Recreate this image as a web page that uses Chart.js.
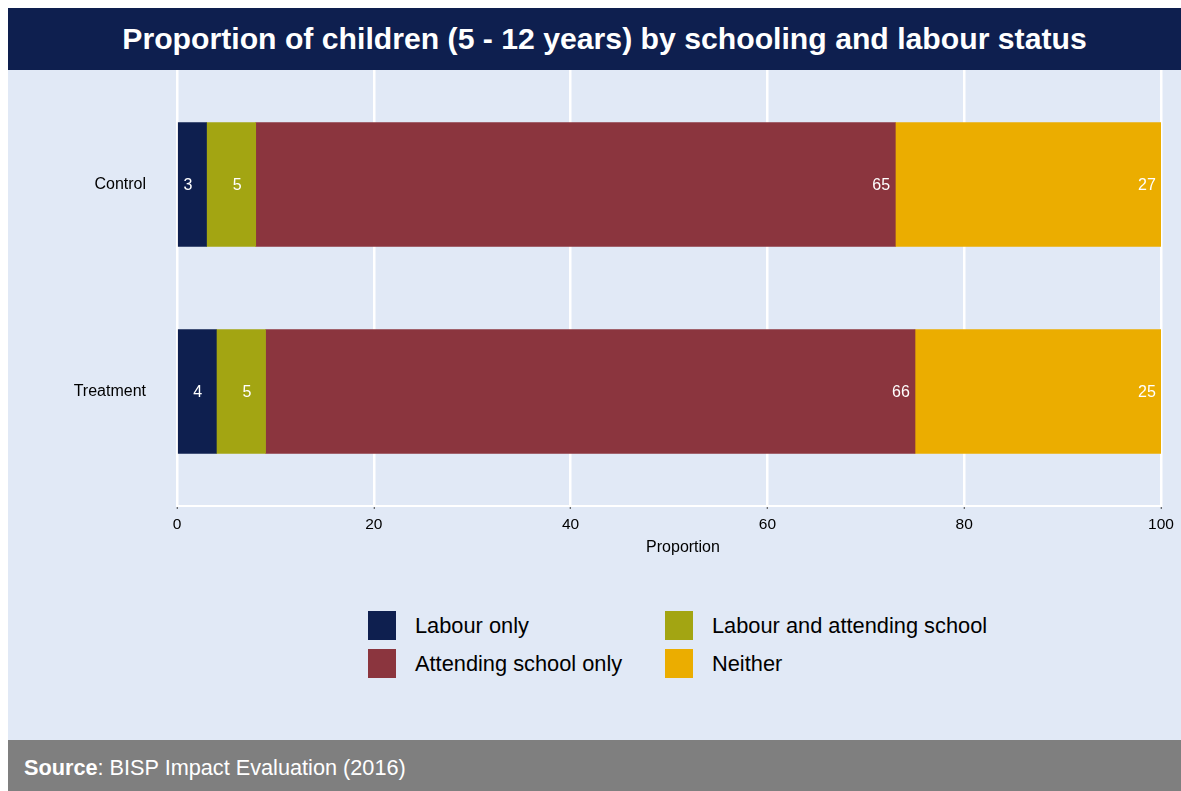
<!DOCTYPE html>
<html>
<head>
<meta charset="utf-8">
<script src="https://cdn.jsdelivr.net/npm/chart.js@4/dist/chart.umd.min.js"></script>
<style>
  html, body { margin: 0; padding: 0; background: #ffffff; }
  body { width: 1181px; height: 791px; position: relative; overflow: hidden;
         font-family: "Liberation Sans", Arial, sans-serif; }
  #title { position: absolute; left: 8px; top: 8px; width: 1173px; height: 62px;
           box-sizing: border-box; padding-left: 20px; background: #0E1F4F; color: #ffffff;
           font-weight: bold; font-size: 30.2px; line-height: 62px; text-align: center; white-space: nowrap; }
  #panel { position: absolute; left: 8px; top: 70px; width: 1173px; height: 670px; background: #E1E9F6; }
  #wrap { position: absolute; left: 8px; top: 70px; width: 1173px; height: 496px; }
  #legend { position: absolute; left: 368px; top: 611px; display: grid;
            grid-template-columns: 297px 320px; grid-auto-rows: 38px; }
  .item { display: flex; align-items: flex-start; height: 38px; }
  .box { width: 28px; height: 29px; margin-right: 19px; flex: none; }
  .lbl { font-size: 21.8px; line-height: 29px; color: #000000; white-space: nowrap; }
  #source { position: absolute; left: 8px; top: 740px; width: 1173px; height: 51px;
            box-sizing: border-box; padding-left: 16px; background: #7F7F7F; color: #ffffff;
            font-size: 21.7px; line-height: 56px; white-space: nowrap; }
</style>
</head>
<body>
<div id="title">Proportion of children (5 - 12 years) by schooling and labour status</div>
<div id="panel"></div>
<div id="wrap"><canvas id="chart"></canvas></div>
<div id="legend"></div>
<div id="source"><b>Source</b>: BISP Impact Evaluation (2016)</div>
<script>
// Groups shown on the vertical axis (top to bottom)
const groups = ['Control', 'Treatment'];

// Share of children (%) in each schooling / labour status
const labourOnly      = [3, 4];
const labourAndSchool = [5, 5];
const schoolOnly      = [65, 66];
const neither         = [27, 25];

const seriesNames  = ['Labour only', 'Labour and attending school', 'Attending school only', 'Neither'];
const seriesColors = ['#0E1F4F', '#A3A512', '#8B353E', '#EBAD00'];
const seriesValues = [labourOnly, labourAndSchool, schoolOnly, neither];

// Horizontal axis ticks and title
const xTicks = [0, 20, 40, 60, 80, 100];
const xTitle = 'Proportion';

const datasets = seriesValues.map((vals, s) => ({
  label: seriesNames[s],
  data: vals.map((v, i) => ({ x: v, y: i })),
  backgroundColor: seriesColors[s],
  borderWidth: 0,
  barThickness: 124
}));

// White value labels placed just inside the right end of each segment
const segmentLabels = {
  id: 'segmentLabels',
  afterDatasetsDraw(chart) {
    const ctx = chart.ctx;
    ctx.save();
    ctx.fillStyle = '#ffffff';
    ctx.font = '16px "Liberation Sans", Arial, sans-serif';
    ctx.textAlign = 'left';
    ctx.textBaseline = 'middle';
    chart.data.datasets.forEach((ds, d) => {
      chart.getDatasetMeta(d).data.forEach((el, i) => {
        ctx.fillText(String(ds.data[i].x), el.x - 23, el.y + 1.5);
      });
    });
    ctx.restore();
  }
};

// Horizontal axis title, set a little right of the plot centre
const axisTitle = {
  id: 'axisTitle',
  afterDraw(chart) {
    const ctx = chart.ctx;
    const xs = chart.scales.x;
    ctx.save();
    ctx.fillStyle = '#000000';
    ctx.font = '16px "Liberation Sans", Arial, sans-serif';
    ctx.textAlign = 'center';
    ctx.textBaseline = 'middle';
    ctx.fillText(xTitle, (xs.left + xs.right) / 2 + 14, xs.top + 42);
    ctx.restore();
  }
};

new Chart(document.getElementById('chart'), {
  type: 'bar',
  data: { datasets },
  plugins: [segmentLabels, axisTitle],
  options: {
    indexAxis: 'y',
    responsive: true,
    maintainAspectRatio: false,
    animation: false,
    layout: { padding: { left: 0, right: 20, top: 0, bottom: 0 } },
    plugins: {
      legend: { display: false },
      title: { display: false },
      tooltip: { enabled: false }
    },
    scales: {
      x: {
        type: 'linear',
        stacked: true,
        min: 0,
        max: 100,
        afterBuildTicks(scale) { scale.ticks = xTicks.map(v => ({ value: v })); },
        afterFit(scale) { scale.height = 60; },
        grid: {
          color: '#ffffff',
          lineWidth: 2.5,
          drawTicks: true,
          tickLength: 3,
          tickWidth: 1,
          tickColor: '#444444'
        },
        border: { display: true, color: '#ffffff', width: 2 },
        ticks: {
          padding: 6,
          color: '#000000',
          font: { family: '"Liberation Sans", Arial, sans-serif', size: 15.5 }
        },
        title: { display: false }
      },
      y: {
        type: 'linear',
        stacked: true,
        reverse: true,
        offset: false,
        min: -0.553,
        max: 1.553,
        afterBuildTicks(scale) { scale.ticks = groups.map((g, i) => ({ value: i })); },
        afterFit(scale) {
          scale.width = 169;
          scale.paddingTop = 0;
          scale.paddingBottom = 0;
        },
        grid: { display: false, drawTicks: false },
        border: { display: false },
        ticks: {
          padding: 31,
          color: '#000000',
          font: { family: '"Liberation Sans", Arial, sans-serif', size: 16 },
          callback: (v) => groups[v]
        }
      }
    }
  }
});

// Legend built from the dataset names and colours, two per row
const legend = document.getElementById('legend');
datasets.forEach(ds => {
  const item = document.createElement('div');
  item.className = 'item';
  const box = document.createElement('div');
  box.className = 'box';
  box.style.background = ds.backgroundColor;
  const lbl = document.createElement('div');
  lbl.className = 'lbl';
  lbl.textContent = ds.label;
  item.appendChild(box);
  item.appendChild(lbl);
  legend.appendChild(item);
});
</script>
</body>
</html>
